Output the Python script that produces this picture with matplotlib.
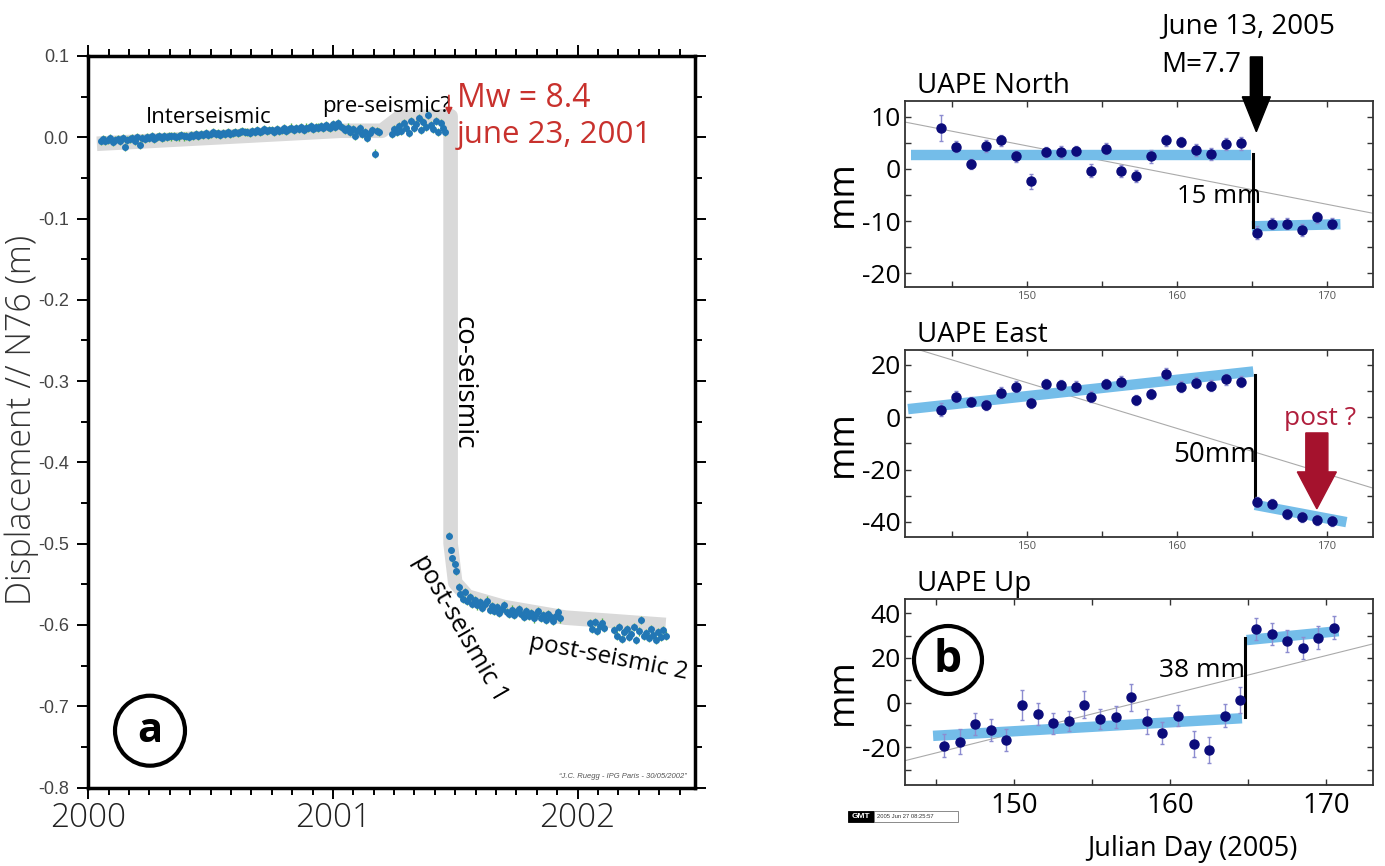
import numpy as np
import matplotlib
matplotlib.use("Agg")
import matplotlib.pyplot as plt
from matplotlib.patches import Ellipse, Rectangle
from matplotlib.ticker import MultipleLocator, FuncFormatter

plt.rcParams["axes.unicode_minus"] = False
plt.rcParams["font.family"] = ["Open Sans", "DejaVu Sans"]

W, H = 1385, 866

# ---------------- panel a : displacement along N76 (m), values in mm
inter_mm = [-5, -2, -4, -3, -1, -6, -3, -2, -4, -1,
            -12, -3, -2, -1, -4, 0, -9, -1, -2, 0,
            -1, 1, -2, 0, 2, -1, 1, 0, 2, 1,
            2, 0, 1, 3, 1, 2, 0, 3, 2, 4,
            2, 4, 3, 5, 3, 4, 6, 4, 5, 3,
            5, 4, 6, 4, 5, 7, 5, 6, 8, 6,
            7, 5, 8, 7, 9, 7, 8, 10, 8, 9,
            9, 7, 10, 8, 9, 11, 8, 10, 12, 9,
            11, 10, 13, 9, 12, 11, 14, 10, 13, 12,
            14, 11, 15, 13, 12, 16, 13, 18, 14, 11,
            9, 12, 6, 10, 2, 8, 11, 4, 7, -1, 5, 9, -20, 8, 6]
pre_mm = [4, 10, 6, 14, 8, 18, 12, 5, 20, 11, 16, 24, 9, 19, 13, 27,
          15, 10, 20, 7, 17, 12, 6]
early_years = [2001.474, 2001.481, 2001.488, 2001.499, 2001.504, 2001.515]
early_mm = [-490, -508, -518, -525, -534, -553]
post1_mm = [-562, -568, -560, -571, -566, -574, -569, -576, -572, -579,
            -574, -570, -581, -577, -583, -578, -585, -580, -576, -584,
            -587, -581, -588, -584, -580, -587, -590, -583, -589, -585,
            -592, -587, -583, -591, -588, -594, -586, -590, -595, -589,
            -584, -592]
post2_mm = [-598, -605, -596, -607, -601, -597, -604]
post3_mm = [-606, -613, -603, -617, -609, -605, -615, -611, -602, -619,
            -608, -594, -614, -610, -616, -605, -612, -618, -609, -615,
            -606, -613]
# first epoch of each chunk (solutions every 0.01 yr)
chunks = [(2000.05, inter_mm), (2001.24, pre_mm), (2001.52, post1_mm),
          (2002.05, post2_mm), (2002.15, post3_mm)]

band_years = [2000.035, 2001.03, 2001.2, 2001.27, 2001.481, 2001.481,
              2001.50, 2001.55, 2001.7, 2001.95, 2002.36]
band_m = [-0.008, 0.008, 0.008, 0.024, 0.026, -0.50,
          -0.548, -0.565, -0.578, -0.591, -0.600]

# ---------------- panel b : UAPE daily positions (mm)
ne_days = [144.3, 145.3, 146.3, 147.3, 148.3, 149.3, 150.3, 151.3, 152.3,
           153.3, 154.3, 155.3, 156.3, 157.3, 158.3, 159.3, 160.3, 161.3,
           162.3, 163.3, 164.3, 165.35, 166.35, 167.35, 168.35, 169.35, 170.35]
north_mm = [7.8, 4.3, 1.0, 4.4, 5.5, 2.4, -2.4, 3.3, 3.3, 3.4, -0.3, 3.9,
            -0.4, -1.3, 2.4, 5.5, 5.2, 3.6, 2.9, 4.8, 4.9,
            -12.2, -10.5, -10.5, -11.7, -9.3, -10.5]
north_err = [2.5, 1.0, 1.0, 1.2, 1.0, 1.0, 1.5, 1.0, 1.2, 1.0, 1.2, 1.0,
             1.2, 1.2, 1.2, 1.0, 1.0, 1.2, 1.2, 1.2, 1.2,
             1.2, 1.0, 1.0, 1.2, 1.0, 1.0]
east_mm = [2.8, 7.9, 6.0, 4.7, 9.4, 11.7, 5.4, 12.7, 12.4, 11.7, 7.9, 12.7,
           13.6, 6.6, 8.9, 16.6, 11.7, 13.2, 12.1, 14.5, 13.6,
           -32.5, -33.1, -36.9, -38.2, -39.2, -39.6]
east_err = [2.5, 2.0, 1.8, 1.8, 2.2, 2.0, 2.0, 2.0, 2.0, 2.0, 2.0, 2.0,
            2.0, 2.0, 2.0, 2.2, 2.0, 2.0, 2.0, 2.0, 2.0,
            2.0, 2.0, 2.0, 2.0, 2.0, 2.0]
up_days = [145.5, 146.5, 147.5, 148.5, 149.5, 150.5, 151.5, 152.5, 153.5,
           154.5, 155.5, 156.5, 157.5, 158.5, 159.5, 160.5, 161.5, 162.5,
           163.5, 164.5, 165.5, 166.5, 167.5, 168.5, 169.5, 170.5]
up_mm = [-19.3, -17.5, -9.6, -12.2, -16.7, -1.0, -5.2, -9.3, -8.1, -1.0,
         -7.3, -6.3, 2.4, -8.4, -13.7, -5.8, -18.5, -21.2, -5.8, 1.2,
         33.0, 30.7, 27.6, 24.6, 29.1, 33.6]
up_err = [5.2, 5.5, 5.0, 4.8, 5.0, 6.6, 5.0, 4.8, 4.5, 6.0, 4.5, 5.0, 6.0,
          5.5, 5.0, 4.8, 6.0, 6.0, 5.0, 6.0, 5.0, 5.0, 5.0, 5.0, 5.0, 5.0]

# fitted segments: (days, mm)
north_fits = [([142.3, 164.95], [2.6, 2.6]), ([165.0, 170.9], [-11.0, -10.6])]
east_fits = [([142.1, 165.1], [3.1, 17.5]), ([165.2, 171.3], [-33.5, -40.1])]
up_fits = [([144.8, 164.6], [-14.9, -7.0]), ([164.9, 170.8], [28.0, 32.0])]
north_trend = ([141.9, 173.07], [9.0, -8.5])
east_trend = ([141.9, 173.07], [27.4, -27.1])
up_trend = ([143.0, 173.0], [-26.0, 26.3])
north_step = (165.1, [2.9, -11.2])
east_step = (165.2, [16.2, -31.0])
up_step = (164.8, [28.8, -6.3])

fig = plt.figure(figsize=(W / 100, H / 100), dpi=100)


def px_axes(l, t, r, b):
    return fig.add_axes([l / W, 1 - b / H, (r - l) / W, (b - t) / H])


def ftext(x, y, s, **kw):
    return fig.text(x / W, 1 - y / H, s, **kw)


def ring(x, y, r, letter, size):
    fig.add_artist(Ellipse((x / W, 1 - y / H), 2 * r / W, 2 * r / H,
                           transform=fig.transFigure, fill=False,
                           lw=3, ec="black"))
    ftext(x, y + 1, letter, fontsize=size, fontweight="bold",
          ha="center", va="center")


# ======================= panel a
ax = px_axes(88.3, 56, 695, 787.5)
ax.plot(band_years, band_m, color="#d9d9d9", lw=10.5,
        solid_joinstyle="round", solid_capstyle="butt", zorder=1)
for t0, vals in chunks:
    t = np.round(t0 + 0.01 * np.arange(len(vals)), 3)
    ax.errorbar(t, np.array(vals) / 1000, yerr=0.005, fmt="o", ms=4,
                color="#2277b5", ecolor="#4dad4a", elinewidth=1,
                capsize=0, zorder=3)
ax.errorbar(early_years, np.array(early_mm) / 1000, yerr=0.004, fmt="o",
            ms=4, color="#2277b5", ecolor="#4dad4a", elinewidth=1,
            capsize=0, zorder=3)
ax.set_xlim(2000.0, 2002.48)
ax.set_ylim(-0.8, 0.1)
ax.xaxis.set_major_locator(MultipleLocator(1))
ax.xaxis.set_minor_locator(MultipleLocator(1 / 12))
ax.yaxis.set_major_locator(MultipleLocator(0.1))
ax.yaxis.set_minor_locator(MultipleLocator(0.05))
ax.xaxis.set_major_formatter(FuncFormatter(lambda v, p: "%d" % round(v)))
ax.yaxis.set_major_formatter(FuncFormatter(lambda v, p: "%.1f" % (round(v, 1) + 0.0)))
ax.tick_params(which="both", direction="out", top=True, right=True,
               width=1.4, color="black")
ax.tick_params(which="major", length=8)
ax.tick_params(which="minor", length=5)
ax.tick_params(axis="y", labelsize=13, labelcolor="#444444", pad=6)
ax.tick_params(axis="x", labelsize=24, labelcolor="#222222", pad=2)
for lab in ax.get_yticklabels():
    lab.set_family("Liberation Sans")
for lab in ax.get_xticklabels():
    lab.set_fontweight("light")
for sp in ax.spines.values():
    sp.set_linewidth(2.5)
ftext(22, 420, "Displacement // N76 (m)", fontsize=24.5, color="#333333",
      fontweight="light", rotation=90, ha="center", va="center")

ax.text(2000.235, 0.018, "Interseismic", fontsize=16)
ax.text(2000.955, 0.031, "pre-seismic?", fontsize=16)
ax.annotate("", xy=(2001.474, 0.024), xytext=(2001.474, 0.055),
            arrowprops=dict(arrowstyle="-|>", color="#c8312d", lw=1.2,
                            mutation_scale=10))
ftext(457, 107, "Mw = 8.4", fontsize=23, color="#c8312d")
ftext(457, 143, "june 23, 2001", fontsize=22.5, color="#c8312d")
ftext(464, 383, "co-seismic", fontsize=20, rotation=-90,
      ha="center", va="center")
ftext(460, 628, "post-seismic 1", fontsize=18, rotation=-60,
      ha="center", va="center", rotation_mode="anchor")
ftext(608, 658, "post-seismic 2", fontsize=17.5, rotation=-11,
      ha="center", va="center", rotation_mode="anchor")
ftext(687, 777, "\u201cJ.C. Ruegg - IPG Paris - 30/05/2002\u201d", fontsize=5.5,
      color="#555555", style="italic", ha="right", va="center",
      family="Liberation Sans")
ring(150, 730.7, 35, "a", 30)

# ======================= panel b
panels = [
    ("UAPE North", (905, 100.7, 1373, 287.3), ne_days, north_mm, north_err,
     north_fits, north_trend, north_step, (-22.7, 13.1), 10, 5),
    ("UAPE East", (905, 350, 1373, 537.3), ne_days, east_mm, east_err,
     east_fits, east_trend, east_step, (-45.9, 25.7), 20, 10),
    ("UAPE Up", (905, 599, 1373, 785), up_days, up_mm, up_err,
     up_fits, up_trend, up_step, (-36.9, 46.4), 20, 10),
]
axes_b = []
for name, box, d, v, e, fits, trend, step, ylim, maj, mnr in panels:
    axb = px_axes(*box)
    axes_b.append(axb)
    axb.plot(trend[0], trend[1], color="#aaaaaa", lw=0.8, zorder=1)
    for fx, fy in fits:
        axb.plot(fx, fy, color="#74bde9", lw=7.5, solid_capstyle="butt",
                 zorder=2)
    axb.plot([step[0], step[0]], step[1], color="black", lw=2.2, zorder=3)
    axb.errorbar(d, v, yerr=e, fmt="o", ms=6.5, color="#0b0b7a",
                 ecolor="#8c8cd0", elinewidth=1, capsize=1.5, zorder=4)
    axb.set_ylim(*ylim)
    if name == "UAPE Up":
        axb.set_xlim(143.0, 173.0)
    else:
        axb.set_xlim(141.9, 173.07)
    axb.xaxis.set_major_locator(MultipleLocator(10))
    axb.xaxis.set_minor_locator(MultipleLocator(5))
    axb.yaxis.set_major_locator(MultipleLocator(maj))
    axb.yaxis.set_minor_locator(MultipleLocator(mnr))
    axb.xaxis.set_major_formatter(FuncFormatter(lambda x, p: "%d" % round(x)))
    axb.yaxis.set_major_formatter(FuncFormatter(lambda x, p: "%d" % round(x)))
    axb.tick_params(which="both", direction="in", top=True, right=True,
                    length=4, width=1, color="#333333")
    axb.tick_params(axis="y", labelsize=19, pad=3)
    if name == "UAPE Up":
        axb.tick_params(axis="x", labelsize=20, pad=5)
    else:
        axb.tick_params(axis="x", labelsize=8, labelcolor="#555555", pad=3)
    for sp in axb.spines.values():
        sp.set_linewidth(1.3)
        sp.set_color("#333333")
    axb.set_ylabel("mm", fontsize=26)
    axb.yaxis.set_label_coords(-0.094, 0.5)
    ftext(917, box[1] - 8, name, fontsize=20, va="baseline")

ax_n, ax_e, ax_u = axes_b
ax_n.arrow(165.3, 21.5, 0, 7.15 - 21.5, width=0.8, head_width=1.87,
           head_length=6.7, length_includes_head=True, color="black",
           clip_on=False, zorder=6)
ftext(1161, 33, "June 13, 2005", fontsize=20)
ftext(1161, 72, "M=7.7", fontsize=20)
ftext(1177, 203, "15 mm", fontsize=18.5)
ftext(1173, 462, "50mm", fontsize=20)
ax_e.arrow(169.33, -6.0, 0, -35.0 + 6.0, width=1.47, head_width=2.6,
           head_length=14.1, length_includes_head=True, color="#a5122d",
           clip_on=False, zorder=6)
ftext(1284, 425, "post ?", fontsize=19, color="#b01e3c")
ftext(1159, 677, "38 mm", fontsize=19)
ax_u.set_xlabel("Julian Day (2005)", fontsize=19.5, labelpad=6)
ax_u.xaxis.set_label_coords(0.615, -0.27)
ring(948, 660, 34, "b", 32)

# GMT time stamp
fig.add_artist(Rectangle((848 / W, 1 - 822 / H), 26 / W, 11 / H,
                         transform=fig.transFigure, fc="black", ec="black",
                         lw=0.6))
fig.add_artist(Rectangle((874 / W, 1 - 822 / H), 84 / W, 11 / H,
                         transform=fig.transFigure, fc="white", ec="#777777",
                         lw=0.6))
ftext(861, 816.5, "GMT", fontsize=6, color="white", fontweight="bold",
      ha="center", va="center", family="Liberation Sans")
ftext(877, 816.5, "2005 Jun 27 08:25:57", fontsize=4.2, color="#333333",
      va="center", family="Liberation Sans")

fig.savefig("out.png", dpi=100)
